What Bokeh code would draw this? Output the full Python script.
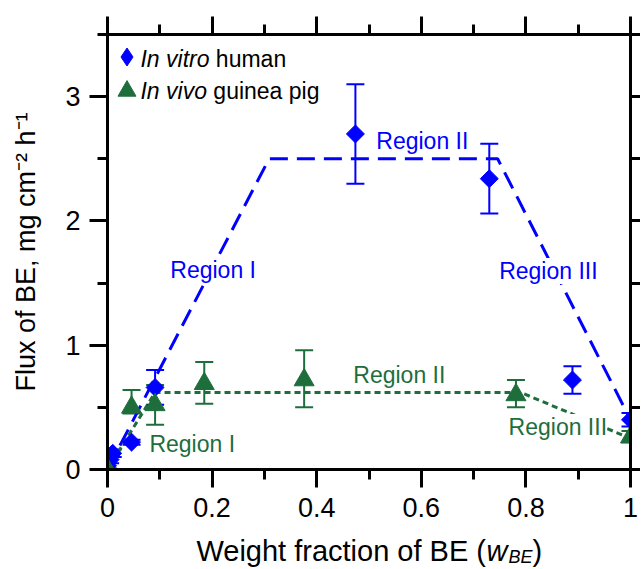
import math
from bokeh.plotting import figure
from bokeh.layouts import column
from bokeh.models import (ColumnDataSource, Whisker, TeeHead, Label, LinearAxis, FixedTicker,
                          Range1d, Legend, LegendItem, CustomJSTickFormatter, Grid)
from bokeh.core.properties import value
from bokeh.embed import file_html
from bokeh.resources import INLINE

# ---------------- data ----------------
human_w = [0.0, 0.005, 0.010, 0.046, 0.091, 0.474, 0.730, 0.889, 1.0]
human_flux = [0.03, 0.08, 0.13, 0.22, 0.66, 2.70, 2.34, 0.72, 0.40]
human_err = [0.02, 0.03, 0.03, 0.02, 0.14, 0.40, 0.28, 0.11, 0.055]

pig_w = [0.0, 0.046, 0.091, 0.185, 0.376, 0.781, 1.0]
pig_flux = [0.0, 0.50, 0.52, 0.69, 0.72, 0.60, 0.26]
pig_lo = [0.0, 0.45, 0.36, 0.53, 0.50, 0.50, 0.22]
pig_hi = [0.0, 0.64, 0.68, 0.865, 0.96, 0.72, 0.31]

human_fit_w = [0.0, 0.309, 0.746, 1.0]
human_fit_flux = [0.0, 2.5, 2.5, 0.40]
pig_fit_w = [0.0, 0.091, 0.79, 1.0]
pig_fit_flux = [0.0, 0.62, 0.62, 0.25]

x_ticks = [0, 0.2, 0.4, 0.6, 0.8, 1]
x_tick_labels = ["0", "0.2", "0.4", "0.6", "0.8", "1"]
x_minor_ticks = [0.1, 0.3, 0.5, 0.7, 0.9]
y_ticks = [0, 1, 2, 3]
y_tick_labels = ["0", "1", "2", "3"]
y_minor_ticks = [0.5, 1.5, 2.5, 3.5]

BLUE = "#0000FF"
GREEN = "#1E6E3C"
FONT = "Liberation Sans"

hs = ColumnDataSource(dict(x=human_w, y=human_flux,
                           lo=[a - b for a, b in zip(human_flux, human_err)],
                           hi=[a + b for a, b in zip(human_flux, human_err)]))
gs = ColumnDataSource(dict(x=pig_w, y=pig_flux, lo=pig_lo, hi=pig_hi))


def bare(fig):
    for r in list(fig.center):
        if isinstance(r, Grid):
            r.visible = False
    fig.outline_line_color = None
    fig.background_fill_color = "white"
    fig.border_fill_color = "white"


p = figure(width=640, height=531, x_range=Range1d(0, 1), y_range=Range1d(0, 3.5),
           output_backend="svg", toolbar_location=None,
           x_axis_location=None, y_axis_location=None,
           min_border_left=107, min_border_right=10, min_border_top=34, min_border_bottom=62)
bare(p)


def style_axis(ax, tick_out, minor_out, font_size, standoff):
    ax.axis_line_width = 3
    ax.axis_line_color = "black"
    ax.major_tick_line_width = 3
    ax.minor_tick_line_width = 3
    ax.major_tick_in = 0
    ax.minor_tick_in = 0
    ax.major_tick_out = tick_out
    ax.minor_tick_out = minor_out
    ax.major_label_text_font = FONT
    ax.major_label_text_font_size = font_size
    ax.major_label_text_color = "black"
    ax.major_label_standoff = standoff


xb = LinearAxis(ticker=FixedTicker(ticks=x_ticks, minor_ticks=x_minor_ticks),
                major_label_overrides=dict(zip(x_ticks, x_tick_labels)))
style_axis(xb, 18, 10, "27px", 10)
p.add_layout(xb, "below")

xt = LinearAxis(ticker=FixedTicker(ticks=x_ticks, minor_ticks=x_minor_ticks),
                formatter=CustomJSTickFormatter(code="return ''"))
style_axis(xt, 18, 10, "1px", 0)
p.add_layout(xt, "above")

yl = LinearAxis(ticker=FixedTicker(ticks=y_ticks, minor_ticks=y_minor_ticks),
                major_label_overrides=dict(zip(y_ticks, y_tick_labels)))
style_axis(yl, 18, 10, "27px", 9)
yl.axis_label = "Flux of BE, mg cm\u207b\u00b2 h\u207b\u00b9"
yl.axis_label_text_font = FONT
yl.axis_label_text_font_size = "27px"
yl.axis_label_text_font_style = "normal"
yl.axis_label_text_color = "black"
yl.axis_label_standoff = 21
p.add_layout(yl, "left")

yr = LinearAxis(ticker=FixedTicker(ticks=y_ticks, minor_ticks=y_minor_ticks),
                formatter=CustomJSTickFormatter(code="return ''"))
style_axis(yr, 10, 10, "1px", 0)
p.add_layout(yr, "right")

# fit lines
p.line(human_fit_w, human_fit_flux, line_color=BLUE, line_width=3, line_dash="18 9")
p.line(pig_fit_w, pig_fit_flux, line_color=GREEN, line_width=3, line_dash="6 4")

# error bars
for src, col in ((hs, BLUE), (gs, GREEN)):
    w = Whisker(source=src, base="x", lower="lo", upper="hi", line_color=col, line_width=2,
                upper_head=TeeHead(size=18, line_color=col, line_width=2),
                lower_head=TeeHead(size=18, line_color=col, line_width=2))
    w.level = "underlay"
    p.add_layout(w)

rh = p.scatter("x", "y", source=hs, marker="square", angle=math.pi / 4, size=12.7,
               fill_color=BLUE, line_color=BLUE)
rg = p.scatter("x", "y", source=gs, marker="triangle", size=20,
               fill_color=GREEN, line_color=GREEN)
# legend key for the human series (legend keys are drawn unrotated, so use the diamond marker)
rh_key = p.scatter("x", "y", source=hs, marker="diamond", size=0,
                   fill_color=BLUE, line_color=BLUE)

# legend (keys) – texts added as labels for mixed italic style
common = dict(padding=0, margin=0, spacing=0, label_standoff=0, label_width=1, label_height=1,
              label_text_font_size="1px", background_fill_alpha=0, border_line_alpha=0,
              glyph_width=45, glyph_height=45)
leg1 = Legend(items=[LegendItem(label=value(" "), renderers=[rh_key])], location=(-3.5, 389.8),
              **common)
leg2 = Legend(items=[LegendItem(label=value(" "), renderers=[rg])], location=(-3.5, 356.5),
              **common)
p.add_layout(leg1)
p.add_layout(leg2)


def lab(fig, x, y, text, color="black", size="23px", style="normal", align="center",
        baseline="middle", xoff=0, yoff=0, bg=None):
    kw = dict(x=x, y=y, text=text, text_color=color, text_font=FONT, text_font_size=size,
              text_font_style=style, text_align=align, text_baseline=baseline,
              x_offset=xoff, y_offset=yoff)
    if bg:
        kw.update(background_fill_color=bg, background_fill_alpha=1.0)
    fig.add_layout(Label(**kw))


lab(p, 0.063, 3.304, "In vitro", style="italic", align="left")
lab(p, 0.063, 3.304, "human", align="left", xoff=75.4)
lab(p, 0.063, 3.049, "In vivo", style="italic", align="left")
lab(p, 0.063, 3.049, "guinea pig", align="left", xoff=72.9)

lab(p, 0.202, 1.605, "Region I", color=BLUE, bg="white")
lab(p, 0.602, 2.645, "Region II", color=BLUE, bg="white")
lab(p, 0.843, 1.598, "Region III", color=BLUE, bg="white")
lab(p, 0.162, 0.207, "Region I", color=GREEN, bg="white")
lab(p, 0.558, 0.758, "Region II", color=GREEN, bg="white")
lab(p, 0.861, 0.341, "Region III", color=GREEN, bg="white")

# x-axis title strip (separate svg figure sharing the x range, so the title is not clipped)
p2 = figure(width=640, height=37, x_range=p.x_range, y_range=Range1d(0, 37),
            output_backend="svg", toolbar_location=None,
            x_axis_location=None, y_axis_location=None,
            min_border_left=107, min_border_right=10, min_border_top=0, min_border_bottom=0)
bare(p2)
TX = 0.170
TY = 18
lab(p2, TX, TY, "Weight fraction of BE (", size="29px", align="left")
lab(p2, TX, TY, "w", size="29px", style="italic", align="left", xoff=290)
lab(p2, TX, TY, "BE", size="18px", style="italic", align="left", xoff=312, yoff=-6)
lab(p2, TX, TY, ")", size="29px", align="left", xoff=336)

layout = column(p, p2, spacing=0)
open("out.html", "w").write(file_html(layout, INLINE))
